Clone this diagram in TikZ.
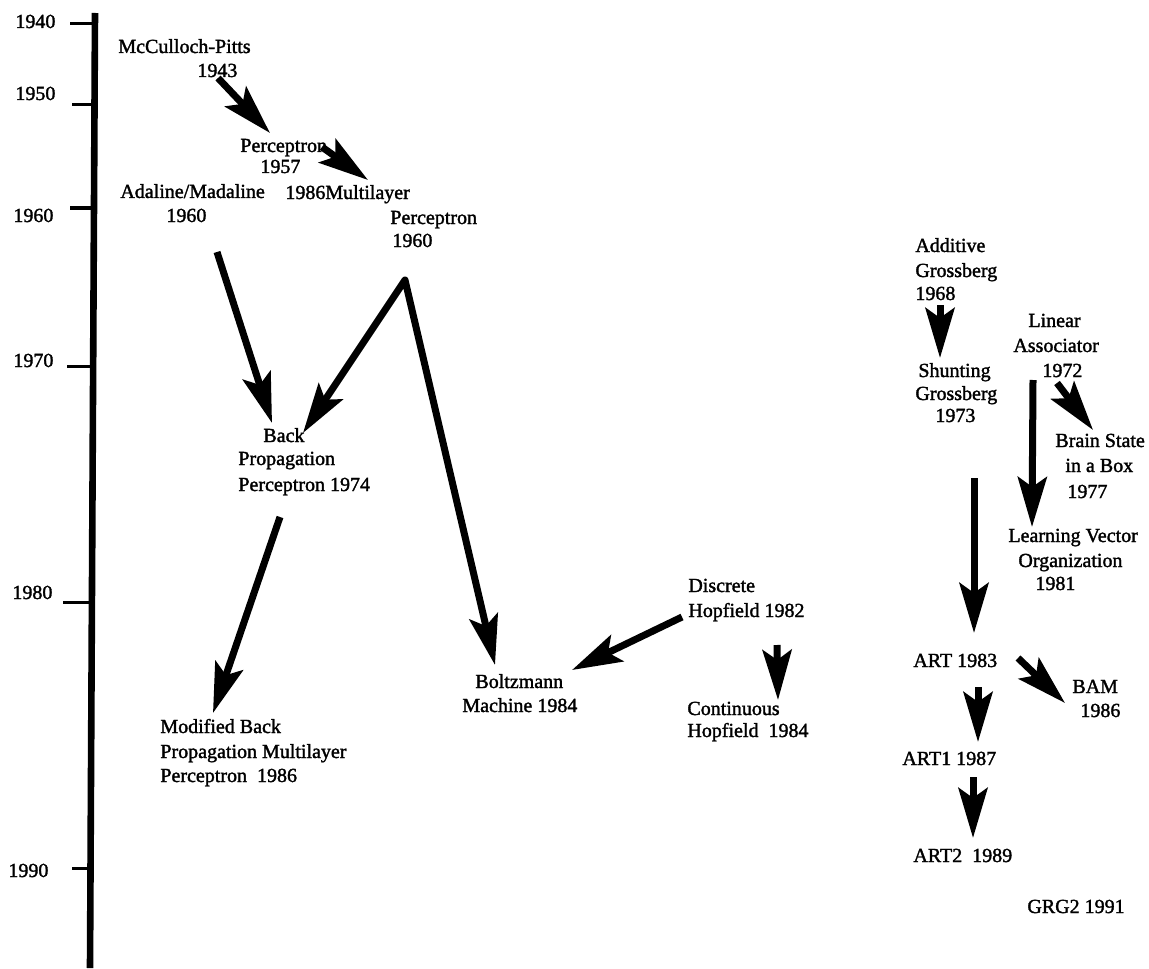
\documentclass[tikz,border=0pt]{standalone}
\usepackage{fontspec}
\setmainfont{Liberation Serif}[FakeBold=1.6]
\usetikzlibrary{arrows.meta}
\begin{document}
\begin{tikzpicture}[x=0.5pt,y=-0.5pt,
  font=\fontsize{10pt}{12pt}\selectfont,
  lbl/.style={anchor=base west, inner sep=0pt},
  arr/.style={line width=3.5pt, line join=round, -{Stealth[length=25pt,width=14.5pt,inset=5pt]}},
  twoarr/.style={line width=3.5pt, line join=round, {Stealth[length=25pt,width=14.5pt,inset=5pt]}-{Stealth[length=25pt,width=14.5pt,inset=5pt]}},
  tickmark/.style={line width=1.5pt}]
\fill[white] (0,0) rectangle (1149,968);
\useasboundingbox (0,0) rectangle (1149,968);

% time axis
\coordinate (axtop) at (95,13);
\coordinate (axbot) at (90,968);
\draw[line width=3.3pt] (axtop) -- (axbot);

% year ticks and labels
\draw[tickmark] (70,24) -- (95,24);
\draw[tickmark] (72,105) -- (95,105);
\draw[tickmark] (70,208) -- (94,208);
\draw[tickmark] (67,366) -- (94,366);
\draw[tickmark] (63,602) -- (91,602);
\draw[tickmark] (72,868) -- (90,868);
\node[lbl] (y1940) at (15,28) {1940};
\node[lbl] (y1950) at (15,100) {1950};
\node[lbl] (y1960) at (13,222) {1960};
\node[lbl] (y1970) at (13,367) {1970};
\node[lbl] (y1980) at (12,599) {1980};
\node[lbl] (y1990) at (8,877) {1990};

% models
\node[lbl] (mpA) at (118,53) {McCulloch-Pitts};
\node[lbl] (mpB) at (197,77) {1943};
\node[lbl] (pcA) at (240,152) {Perceptron};
\node[lbl] (pcB) at (260,173) {1957};
\node[lbl] (adA) at (120,198) {Adaline/Madaline};
\node[lbl] (adB) at (166,222) {1960};
\node[lbl] (mlA) at (285,199) {1986Multilayer};
\node[lbl] (mlB) at (390,224) {Perceptron};
\node[lbl] (mlC) at (392,247) {1960};
\node[lbl] (bpA) at (263,442) {Back};
\node[lbl] (bpB) at (238,465) {Propagation};
\node[lbl] (bpC) at (238,491) {Perceptron 1974};
\node[lbl] (mdA) at (160,733) {Modified Back};
\node[lbl] (mdB) at (160,758) {Propagation Multilayer};
\node[lbl] (mdC) at (160,782) {Perceptron\ \ 1986};
\node[lbl] (bzA) at (475,688) {Boltzmann};
\node[lbl] (bzB) at (462,712) {Machine 1984};
\node[lbl] (dhA) at (688,592) {Discrete};
\node[lbl] (dhB) at (688,617) {Hopfield 1982};
\node[lbl] (chA) at (687,715) {Continuous};
\node[lbl] (chB) at (687,737) {Hopfield\ \ 1984};
\node[lbl] (agA) at (915,252) {Additive};
\node[lbl] (agB) at (915,277) {Grossberg};
\node[lbl] (agC) at (915,300) {1968};
\node[lbl] (sgA) at (918,377) {Shunting};
\node[lbl] (sgB) at (915,400) {Grossberg};
\node[lbl] (sgC) at (935,422) {1973};
\node[lbl] (laA) at (1028,327) {Linear};
\node[lbl] (laB) at (1013,352) {Associator};
\node[lbl] (laC) at (1042,377) {1972};
\node[lbl] (bsA) at (1055,447) {Brain State};
\node[lbl] (bsB) at (1065,472) {in a Box};
\node[lbl] (bsC) at (1067,498) {1977};
\node[lbl] (lvA) at (1008,542) {Learning Vector};
\node[lbl] (lvB) at (1018,567) {Organization};
\node[lbl] (lvC) at (1035,590) {1981};
\node[lbl] (art) at (913,667) {ART 1983};
\node[lbl] (bamA) at (1072,693) {BAM};
\node[lbl] (bamB) at (1080,717) {1986};
\node[lbl] (artI) at (902,765) {ART1 1987};
\node[lbl] (artII) at (913,862) {ART2\ \ 1989};
\node[lbl] (grg) at (1027,913) {GRG2 1991};

% arrow ends
\coordinate (mpS) at (218,78);   \coordinate (pcT) at (270,133);
\coordinate (pcS) at (322,147);  \coordinate (mlT) at (368,180);
\coordinate (adS) at (217,252);  \coordinate (bpT1) at (272,423);
\coordinate (mlS) at (405,280);  \coordinate (bpT2) at (303,433);
\coordinate (bzT1) at (495,665);
\coordinate (bpS) at (280,517);  \coordinate (mdT) at (213,713);
\coordinate (dhS) at (682,617);  \coordinate (bzT2) at (572,670);
\coordinate (dhS2) at (777,645); \coordinate (chT) at (778,700);
\coordinate (agS) at (940,305);  \coordinate (sgT) at (940,358);
\coordinate (laS) at (1057,383); \coordinate (bsT) at (1093,430);
\coordinate (laS2) at (1033,380);\coordinate (lvT) at (1032,527);
\coordinate (sgS) at (974,478);  \coordinate (artT) at (974,633);
\coordinate (artS) at (978,687); \coordinate (artIT) at (978,742);
\coordinate (artS2) at (1018,658);\coordinate (bamT) at (1065,703);
\coordinate (artIS) at (973,777);\coordinate (artIIT) at (973,838);

% lineage arrows
\draw[arr] (mpS) -- (pcT);
\draw[arr] (pcS) -- (mlT);
\draw[arr] (adS) -- (bpT1);
\draw[twoarr] (bpT2) -- (mlS) -- (bzT1);
\draw[arr] (bpS) -- (mdT);
\draw[arr] (dhS) -- (bzT2);
\draw[arr] (dhS2) -- (chT);
\draw[arr] (agS) -- (sgT);
\draw[arr] (laS) -- (bsT);
\draw[arr] (laS2) -- (lvT);
\draw[arr] (sgS) -- (artT);
\draw[arr] (artS) -- (artIT);
\draw[arr] (artS2) -- (bamT);
\draw[arr] (artIS) -- (artIIT);
\end{tikzpicture}
\end{document}
